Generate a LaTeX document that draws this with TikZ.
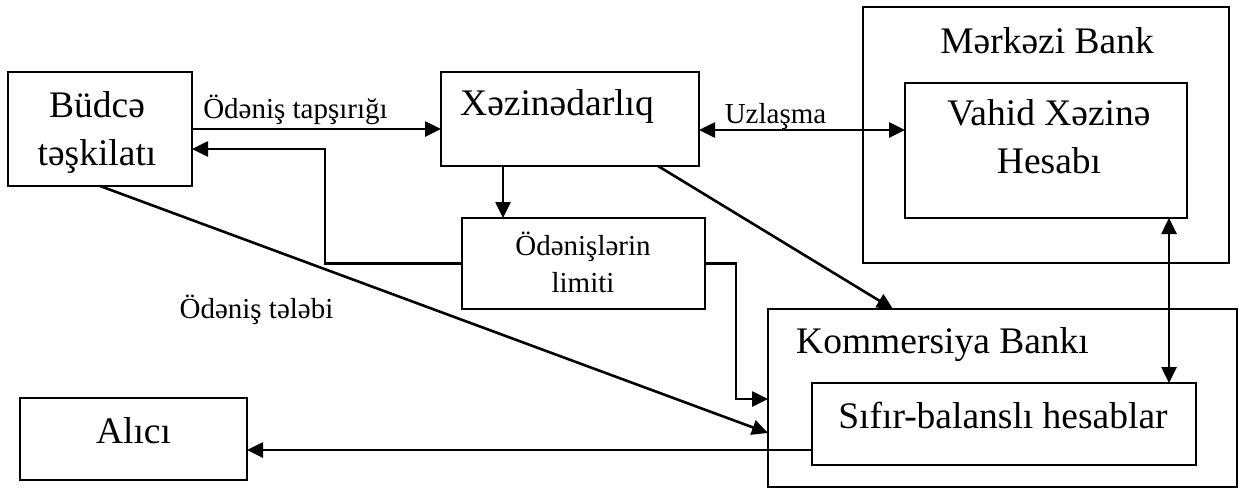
\documentclass[tikz,border=0pt]{standalone}
\usepackage{fontspec}
\setmainfont{Liberation Serif}
\usetikzlibrary{arrows.meta}
\tikzset{
  box/.style={draw, line width=2.2pt, inner sep=0pt, outer sep=0pt},
  big/.style={font=\fontsize{37.5}{48}\selectfont, inner sep=0pt},
  small/.style={font=\fontsize{29}{37}\selectfont, inner sep=0pt},
  conn/.style={line width=2.6pt},
  arr/.style={conn, -{Triangle[length=16pt,width=15pt]}},
  darr/.style={conn, {Triangle[length=16pt,width=15pt]}-{Triangle[length=16pt,width=15pt]}}
}
\begin{document}
\begin{tikzpicture}[x=1pt,y=-1pt]
\useasboundingbox (0,0) rectangle (1248,490);
% boxes
\node[box, minimum width=184pt, minimum height=114pt] (budce) at (100,129) {};
\node[box, minimum width=258pt, minimum height=94pt] (xez) at (570,119) {};
\node[box, minimum width=243pt, minimum height=91pt] (limit) at (583.5,263.5) {};
\node[box, minimum width=366pt, minimum height=256pt] (mb) at (1046,135) {};
\node[box, minimum width=282pt, minimum height=135pt] (vx) at (1046,150.5) {};
\node[box, minimum width=469pt, minimum height=178pt] (kb) at (1002.5,398) {};
\node[box, minimum width=384pt, minimum height=82pt] (sb) at (1004,424) {};
\node[box, minimum width=227pt, minimum height=82pt] (alici) at (133.5,439) {};
% texts
\node[big, align=center] (tbudce) at (97,132) {Büdcə\\təşkilatı};
\node[big, anchor=base] (txez) at (557,115) {Xəzinədarlıq};
\node[small, align=center] (tlimit) at (583,262) {Ödənişlərin\\limiti};
\node[big, anchor=base] (tmb) at (1047,53) {Mərkəzi Bank};
\node[big, align=center] (tvx) at (1049,136.5) {Vahid Xəzinə\\Hesabı};
\node[big, anchor=base west] (tkb) at (796,353) {Kommersiya Bankı};
\node[big, anchor=base] (tsb) at (1003,428) {Sıfır-balanslı hesablar};
\node[big, anchor=base] (talici) at (133.5,443) {Alıcı};
\node[small, anchor=base] (ltap) at (295.5,118) {Ödəniş tapşırığı};
\node[small, anchor=base] (luz) at (775.5,123) {Uzlaşma};
\node[small, anchor=base] (ltel) at (256.5,318) {Ödəniş tələbi};
% helper coordinates
\coordinate (c1) at (325,149);
\coordinate (c2) at (503,0);
\coordinate (c3) at (736,399);
\coordinate (c4) at (0,433);
\coordinate (c5) at (658,0);
\coordinate (c6) at (893,0);
\coordinate (c7) at (0,130);
\coordinate (c8) at (1169,0);
\coordinate (c9) at (0,450);
% connectors
\draw[arr] (budce.east) -- (budce.east -| xez.west);
\draw[arr] (limit.west) -| (c1) -- (c1 -| budce.east);
\draw[arr] (xez.south -| c2) -- (limit.north -| c2);
\draw[arr] (limit.east) -| (c3) -- (c3 -| kb.west);
\draw[arr] (budce.south) -- (kb.west |- c4);
\draw[arr] (xez.south -| c5) -- (kb.north -| c6);
\draw[darr] (xez.east |- c7) -- (vx.west |- c7);
\draw[darr] (vx.south -| c8) -- (sb.north -| c8);
\draw[arr] (sb.west |- c9) -- (alici.east |- c9);
\end{tikzpicture}
\end{document}
